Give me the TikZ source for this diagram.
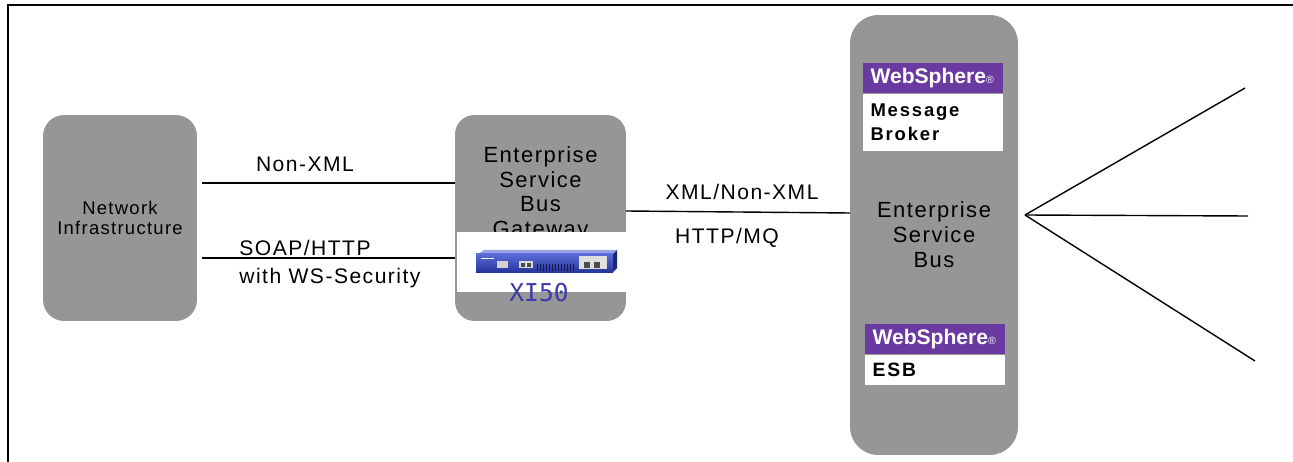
\documentclass[tikz,border=0pt]{standalone}
\usepackage{fontspec}
\setmainfont{Liberation Sans}
\newfontfamily\wide[LetterSpace=7]{Liberation Sans}
\newfontfamily\wider[LetterSpace=10]{Liberation Sans}
\newfontfamily\devfont{DejaVu Sans Mono}
\usepackage{xcolor}
\usepackage{tikz}
\usetikzlibrary{calc}

\definecolor{boxgray}{RGB}{150,150,150}
\definecolor{wspurple}{RGB}{106,58,160}
\definecolor{xiblue}{RGB}{58,58,168}
\definecolor{devblue}{RGB}{50,70,205}

\begin{document}
\begin{tikzpicture}[x=0.02cm,y=-0.02cm]
\tikzstyle{bus} = [fill=boxgray, inner sep=0pt, outer sep=0pt, align=center]
\tikzstyle{link} = [line width=0.8pt]
\tikzstyle{lbl} = [inner sep=0pt, font=\wide\fontsize{12}{14}\selectfont]
\tikzstyle{wsband} = [fill=wspurple, text=white, minimum height=0.6cm, text width=2.5cm, inner xsep=0.15cm, inner ysep=0pt, align=left, font=\bfseries\fontsize{12}{12}\selectfont]
\tikzstyle{wsname} = [fill=white, anchor=north, text width=2.5cm, inner xsep=0.15cm, inner ysep=0pt, align=left, font=\wider\bfseries\fontsize{10.5}{14}\selectfont]
%
	\useasboundingbox (0,0) rectangle (1293,462);
	\draw[line width=1.2pt] (8,462) -- (8,5) -- (1293,5);

	% the three boxes
	\node[bus, rounded corners=12pt, minimum width=3.08cm, minimum height=4.12cm,
		font=\wide\fontsize{10.5}{11.4}\selectfont] (netinf) at (120,218) {Network\\Infrastructure};
	\node[bus, rounded corners=11pt, minimum width=3.42cm, minimum height=4.12cm] (gw) at (540.5,218) {};
	\node[bus, rounded corners=16pt, minimum width=3.36cm, minimum height=8.8cm,
		font=\wide\fontsize{12.5}{14.2}\selectfont] (esb) at (934,235) {Enterprise\\Service\\Bus};
	\node[align=center, inner sep=0pt, font=\wide\fontsize{12.5}{14}\selectfont] (gwtext) at (540.5,194) {Enterprise\\Service\\Bus\\Gateway};

	% XI50 appliance
	\node[fill=white, inner sep=0pt, minimum width=3.38cm, minimum height=1.2cm] (panel) at (541.5,262) {};
	\fill[devblue!50!white] (478,254) -- (484,250) -- (617,250) -- (613,254) -- cycle;
	\shade[top color=devblue!80!white, bottom color=devblue!75!black] (476,254) rectangle (613,272);
	\fill[devblue!55!black] (613,254) -- (617,250) -- (617,268) -- (613,272) -- cycle;
	\draw[white, line width=0.4pt] (481,258) -- (494,258);
	\fill[gray!35] (497,261) rectangle (508,268);
	\fill[gray!30] (519,261) rectangle (533,268);
	\fill[black!70] (521,263) rectangle (525,267);
	\fill[black!70] (527,263) rectangle (531,267);
	\foreach \x in {537,540,...,573}
		\draw[devblue!40!black, line width=0.3pt] (\x,264) -- (\x,271);
	\fill[gray!25] (579,256) rectangle (607,269);
	\fill[black!70] (584,262) rectangle (590,268);
	\fill[black!70] (594,262) rectangle (600,268);
	\node[inner sep=0pt, text=xiblue, font=\devfont\fontsize{14}{14}\selectfont] (xi50) at (539,293) {XI50};

	% WebSphere products
	\node[wsband] (mbband) at (933,78) {WebSphere{\fontsize{6}{6}\selectfont\mdseries ®}};
	\node[wsname, minimum height=1.14cm] (mbname) at (mbband.south) {Message\\Broker};
	\node[wsband] (esbband) at (935,339) {WebSphere{\fontsize{6}{6}\selectfont\mdseries ®}};
	\node[wsname, minimum height=0.6cm, font=\wider\bfseries\fontsize{11}{14}\selectfont] (esbname) at (esbband.south) {ESB};

	% connectors
	\draw[link] ($(netinf.east)+(5,-35)$) -- ($(gw.west)+(0,-35)$);
	\draw[link] ($(netinf.east)+(5,40)$) -- ($(gw.west)+(0,40)$);
	\draw[link] ($(gw.east)+(0,-7)$) -- ($(esb.west)+(0,-22)$);
	\node[lbl] (nonxml) at (305,164) {Non-XML};
	\node[lbl, anchor=west] (soap) at (239,248) {SOAP/HTTP};
	\node[lbl, anchor=west] (wss) at (239,278) {with WS-Security};
	\node[lbl] (xmlnon) at (742,192) {XML/Non-XML};
	\node[lbl] (httpmq) at (727,238) {HTTP/MQ};

	% fan out of the bus
	\coordinate (hub) at ($(esb.east)+(7,-20)$);
	\coordinate (out1) at (1245,88);
	\coordinate (out2) at (1248,216);
	\coordinate (out3) at (1255,361);
	\foreach \o in {out1,out2,out3}
		\draw[link] (hub) -- (\o);
\end{tikzpicture}
\end{document}
